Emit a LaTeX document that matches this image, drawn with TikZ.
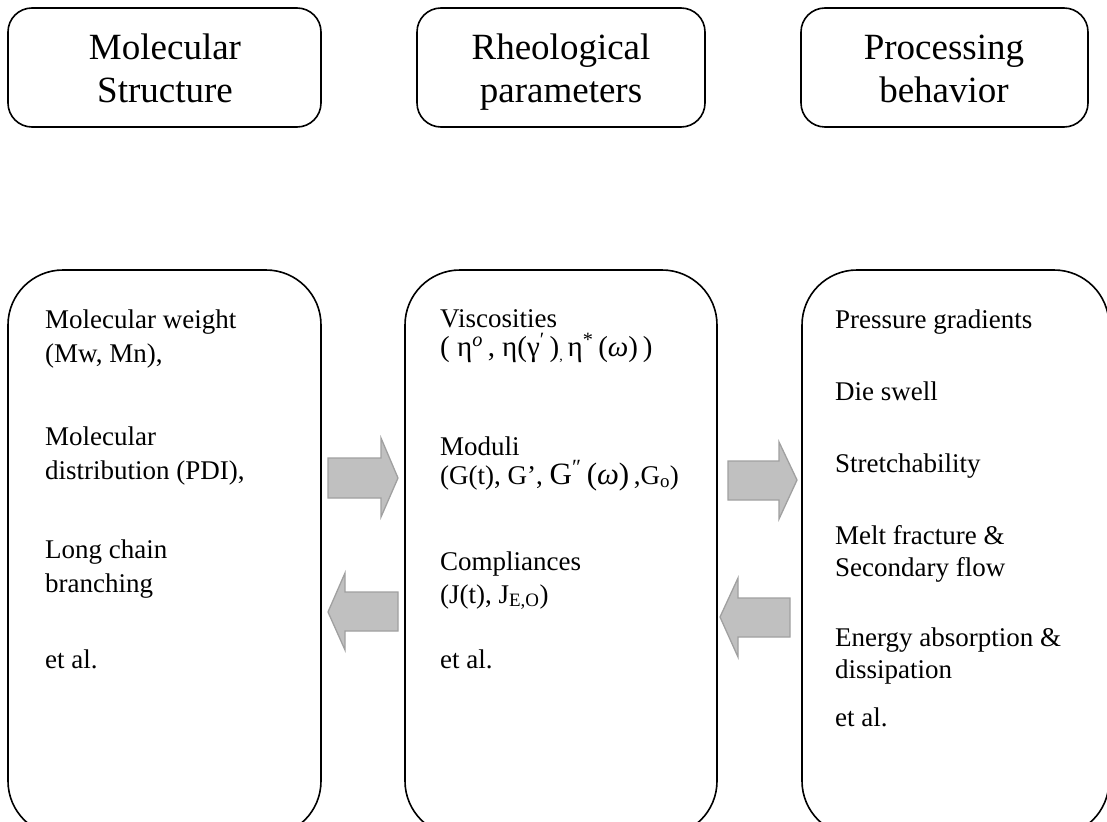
\documentclass[tikz,border=0pt]{standalone}
\usepackage{fontspec}
\setmainfont{Liberation Serif}
\definecolor{arrfill}{RGB}{192,192,192}
\definecolor{arrline}{RGB}{160,160,160}
\tikzset{
  topbox/.style={draw=black, line width=1.6pt, rounded corners=24pt},
  bigbox/.style={draw=black, line width=1.6pt, rounded corners=55pt},
  ttl/.style={font=\fontsize{37}{44}\selectfont, inner sep=0pt, anchor=base},
  txt/.style={font=\fontsize{27}{33}\selectfont, inner sep=0pt, anchor=base west},
  blockarrow/.style={fill=arrfill, draw=arrline, line width=1.3pt, line join=miter}
}
\begin{document}
\begin{tikzpicture}[x=1pt,y=-1pt]
\useasboundingbox (0,0) rectangle (1107,821);
\clip (0,0) rectangle (1107,821);
% top boxes
\draw[topbox] (8,8) rectangle (321,127);
\draw[topbox] (417,8) rectangle (705,127);
\draw[topbox] (801,8) rectangle (1088,127);
\node[ttl] (t1a) at (165,60) {Molecular};
\node[ttl] (t1b) at (165,103) {Structure};
\node[ttl] (t2a) at (561,60) {Rheological};
\node[ttl] (t2b) at (561,103) {parameters};
\node[ttl] (t3a) at (944,60) {Processing};
\node[ttl] (t3b) at (944,103) {behavior};
% bottom boxes
\draw[bigbox] (8,270) rectangle (321,836);
\draw[bigbox] (405,270) rectangle (717,836);
\draw[bigbox] (802,270) rectangle (1109,836);
% left texts
\node[txt] (l1) at (45,328) {Molecular weight};
\node[txt] (l2) at (45,362) {(Mw, Mn),};
\node[txt] (l3) at (45,445) {Molecular};
\node[txt] (l4) at (45,479) {distribution (PDI),};
\node[txt] (l5) at (45,558) {Long chain};
\node[txt] (l6) at (45,592) {branching};
\node[txt] (l7) at (45,668) {et al.};
% middle texts
\node[txt] (m1) at (440,327) {Viscosities};
\node[txt, font=\fontsize{29}{33}\selectfont] (m2) at (440,356) {( η\textsuperscript{\textit{o}}\,, η(γ\textsuperscript{′}\,)\raisebox{-4pt}{\fontsize{14}{14}\selectfont ,}\,η\textsuperscript{*}\,(\textit{ω})\,)};
\node[txt] (m3) at (440,455) {Moduli};
\node[txt] (m4) at (440,484) {(G(t), G’, {\fontsize{31}{33}\selectfont G\textsuperscript{″}\,(\textit{ω})}\,,G\textsubscript{o})};
\node[txt] (m5) at (440,570) {Compliances};
\node[txt] (m6) at (440,603) {(J(t), J\textsubscript{E,O})};
\node[txt] (m7) at (440,668) {et al.};
% right texts
\node[txt] (r1) at (835,328) {Pressure gradients};
\node[txt] (r2) at (835,400) {Die swell};
\node[txt] (r3) at (835,472) {Stretchability};
\node[txt] (r4) at (835,544) {Melt fracture \&};
\node[txt] (r5) at (835,576) {Secondary flow};
\node[txt] (r6) at (835,646) {Energy absorption \&};
\node[txt] (r7) at (835,678) {dissipation};
\node[txt] (r8) at (835,726) {et al.};
% block arrows
\draw[blockarrow] (328,458) -- (381,458) -- (381,438) -- (398,478) -- (381,517) -- (381,498) -- (328,498) -- cycle;
\draw[blockarrow] (328,612) -- (345,573) -- (345,592) -- (398,592) -- (398,631) -- (345,631) -- (345,650) -- cycle;
\draw[blockarrow] (728,461) -- (779,461) -- (779,442) -- (797,480) -- (779,519) -- (779,500) -- (728,500) -- cycle;
\draw[blockarrow] (720,617) -- (738,578) -- (738,598) -- (790,598) -- (790,637) -- (738,637) -- (738,657) -- cycle;
\end{tikzpicture}
\end{document}
